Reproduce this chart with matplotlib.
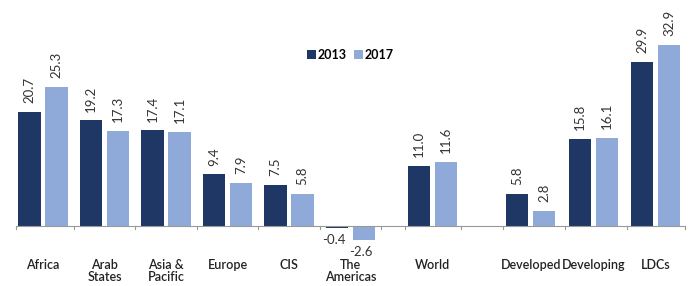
import numpy as np
import matplotlib.pyplot as plt

regions = ['Africa', 'Arab\nStates', 'Asia &\nPacific', 'Europe', 'CIS', 'The\nAmericas',
           'World', 'Developed', 'Developing', 'LDCs']
v2013 = [20.7, 19.2, 17.4, 9.4, 7.5, -0.4, 11.0, 5.8, 15.8, 29.9]
v2017 = [25.3, 17.3, 17.1, 7.9, 5.8, -2.6, 11.6, 2.8, 16.1, 32.9]

# category centres (uneven gaps around World)
xpos = np.array([0, 1, 2, 3, 4, 5, 6.33, 7.93, 8.95, 9.96])
bounds = [-0.44, 0.5, 1.5, 2.5, 3.5, 4.5, 5.5, 5.88, 6.8, 7.48, 8.49, 9.5, 10.44]

dark = '#1f3764'
light = '#8faad8'
plt.rcParams['font.family'] = ['Lato', 'DejaVu Sans']

fig = plt.figure(figsize=(6.94, 2.86), dpi=100)
ax = fig.add_axes([0, 0, 1, 1])
ax.set_xlim(-0.699, 10.585)
ax.set_ylim(-10.9, 41.1)

w = 0.36
off = 0.22
ax.bar(xpos - off, v2013, w, color=dark, label='2013', zorder=2)
ax.bar(xpos + off, v2017, w, color=light, label='2017', zorder=2)

# value labels
for x, a, b in zip(xpos, v2013, v2017):
    for xx, v in ((x - off, a), (x + off, b)):
        if v >= 0:
            ax.text(xx, v + 1.6, '%.1f' % v, rotation=90, ha='center', va='bottom',
                    fontsize=9.5, color='#333333')
        else:
            ax.text(xx - 0.05, v - 1.0, '%.1f' % v, ha='center', va='top',
                    fontsize=9.5, color='#333333')

# category labels
for x, r in zip(xpos, regions):
    ax.text(x, -6.0, r, ha='center', va='top', fontsize=9, color='#222222',
            linespacing=0.95, weight='semibold')

# axis line with ticks at category boundaries
ax.plot([bounds[0], bounds[-1]], [0, 0], color='#999999', lw=0.8, zorder=3)
for b in bounds:
    ax.plot([b, b], [0, -0.6], color='#999999', lw=0.8)

for s in ax.spines.values():
    s.set_visible(False)
ax.set_xticks([])
ax.set_yticks([])

ax.legend(loc='center', bbox_to_anchor=(0.505, 0.808), ncol=2, frameon=False,
          handlelength=0.7, handleheight=0.7, handletextpad=0.15, columnspacing=0.6,
          prop={'weight': 'bold', 'size': 9})

plt.savefig('out.png', dpi=100)
